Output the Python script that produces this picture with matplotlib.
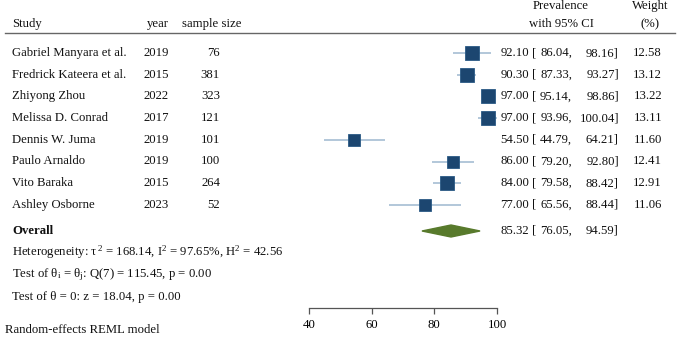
import matplotlib
matplotlib.use("Agg")
import matplotlib.pyplot as plt
import matplotlib.transforms as mtransforms
from matplotlib.patches import Polygon
import numpy as np

plt.rcParams["font.family"] = ["Liberation Serif", "DejaVu Serif"]
plt.rcParams["mathtext.fontset"] = "custom"
plt.rcParams["mathtext.rm"] = "Liberation Serif"
plt.rcParams["mathtext.it"] = "Liberation Serif"

# data
studies = ["Gabriel Manyara et al.", "Fredrick Kateera et al.", "Zhiyong Zhou",
           "Melissa D. Conrad", "Dennis W. Juma", "Paulo Arnaldo",
           "Vito Baraka", "Ashley Osborne"]
years = [2019, 2015, 2022, 2017, 2019, 2019, 2015, 2023]
sample_size = [76, 381, 323, 121, 101, 100, 264, 52]
prev = [92.10, 90.30, 97.00, 97.00, 54.50, 86.00, 84.00, 77.00]
ci_low = [86.04, 87.33, 95.14, 93.96, 44.79, 79.20, 79.58, 65.56]
ci_high = [98.16, 93.27, 98.86, 100.04, 64.21, 92.80, 88.42, 88.44]
weights = [12.58, 13.12, 13.22, 13.11, 11.60, 12.41, 12.91, 11.06]
overall = [85.32, 76.05, 94.59]
xticks = [40, 60, 80, 100]

W, H = 685, 356
fig = plt.figure(figsize=(W / 100, H / 100), dpi=100)
ax = fig.add_axes([309 / W, 1 - 308 / H, (497 - 309) / W, 308 / H])

row_px0, row_step = 53, 21.7
def px2row(p):
    return (p - row_px0) / row_step

ax.set_xlim(40, 100)
ax.set_ylim(px2row(308), px2row(0))
ax.patch.set_alpha(0)
for s in ["top", "left", "right"]:
    ax.spines[s].set_visible(False)
ax.spines["bottom"].set_bounds(40, 100)
ax.spines["bottom"].set_color("#555555")
ax.spines["bottom"].set_linewidth(0.9)
ax.set_yticks([])
ax.set_xticks(xticks)
ax.tick_params(axis="x", length=4, width=0.9, color="#555555", labelsize=9.2, pad=4)

sq_col = "#1c4670"
ci_col = "#a5bdd3"
rows = np.arange(len(studies))
ax.hlines(rows, ci_low, ci_high, color=ci_col, lw=1.2, zorder=2)
for r, p, w in zip(rows, prev, weights):
    ms = 9.6 * np.sqrt(w / max(weights))
    ax.plot(p, r, marker="s", ms=ms, color=sq_col, mec="#2a5a85", mew=0.6, zorder=3)

ov_row = px2row(231)
dh = 6 / row_step
diamond = Polygon([[overall[1], ov_row], [overall[0], ov_row - dh],
                   [overall[2], ov_row], [overall[0], ov_row + dh]],
                  closed=True, color="#587a2c", zorder=3)
ax.add_patch(diamond)

# text columns: x in figure pixels, y in data rows
trans = mtransforms.blended_transform_factory(fig.transFigure, ax.transData)
fs = 9.2
tc = "#111111"
def txt(xp, yr, s, **kw):
    kw.setdefault("fontsize", fs)
    kw.setdefault("color", tc)
    kw.setdefault("va", "center")
    ax.text(xp / W, yr, s, transform=trans, clip_on=False, **kw)

# header
hy = px2row(24)
txt(12, hy, "Study")
txt(169, hy, "year", ha="right")
txt(242, hy, "sample size", ha="right")
txt(561, px2row(6), "Prevalence", ha="center")
txt(561, hy, "with 95% CI", ha="center")
txt(650, px2row(6), "Weight", ha="center")
txt(650, hy, "(%)", ha="center")
ax.plot([5 / W, 675 / W], [px2row(33)] * 2, transform=trans, clip_on=False,
        color="#666666", lw=1.0)

def ci_row(r, est, lo, hi):
    txt(529, r, f"{est:.2f}", ha="right")
    txt(532, r, "[", ha="left")
    txt(572, r, f"{lo:.2f},", ha="right")
    txt(619, r, f"{hi:.2f}]", ha="right")

for r in rows:
    txt(12, r, studies[r])
    txt(169, r, str(years[r]), ha="right")
    txt(220, r, str(sample_size[r]), ha="right")
    ci_row(r, prev[r], ci_low[r], ci_high[r])
    txt(662, r, f"{weights[r]:.2f}", ha="right")

txt(12, ov_row, "Overall", fontweight="bold")
ci_row(ov_row, *overall)

txt(12, px2row(252), r"Heterogeneity: τ$^{\,2}$ = 168.14, I$^{2}$ = 97.65%, H$^{2}$ = 42.56")
txt(12, px2row(275), r"Test of θ$_\mathrm{i}$ = θ$_\mathrm{j}$: Q(7) = 115.45, p = 0.00")
txt(12, px2row(297), r"Test of θ = 0: z = 18.04, p = 0.00")
txt(5, px2row(330), "Random-effects REML model")

fig.savefig("out.png", dpi=100)
